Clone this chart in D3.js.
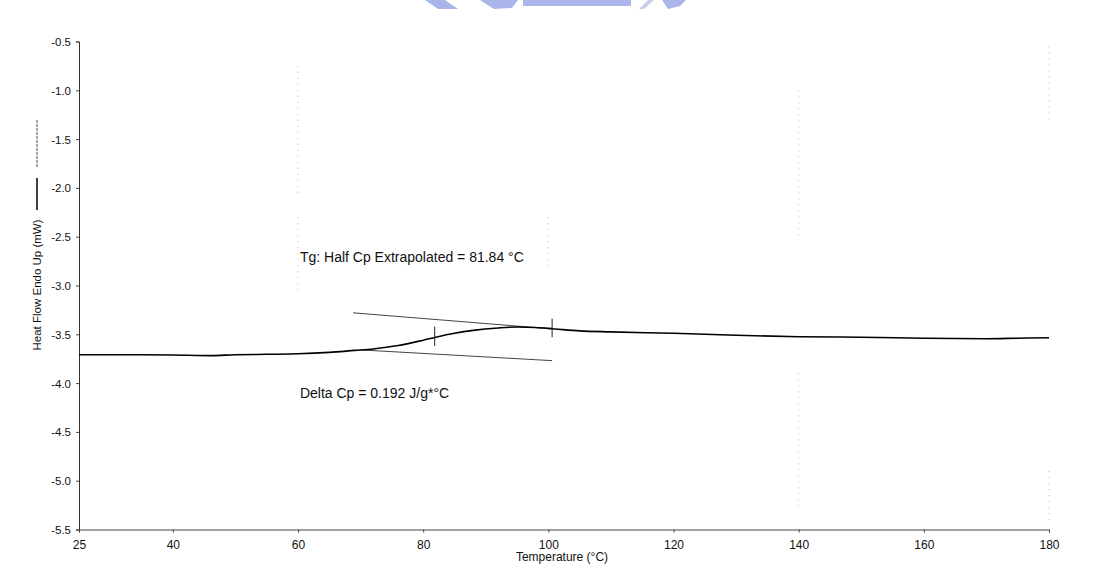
<!DOCTYPE html>
<html><head><meta charset="utf-8">
<script src="https://cdn.jsdelivr.net/npm/d3@7"></script>
<style>html,body{margin:0;padding:0;background:#fff}svg{display:block}</style>
</head><body><svg id="c" width="1104" height="568"></svg>
<script>
// ---- data ----
const temps = [25,30,35,40,46,50,55,60,65,69,72,76,80,82,85,88,92,95,98,101,105,110,120,130,140,150,160,170,175,180];
const heatFlow = [-3.71,-3.71,-3.71,-3.712,-3.718,-3.71,-3.705,-3.70,-3.685,-3.665,-3.65,-3.615,-3.56,-3.53,-3.49,-3.46,-3.435,-3.425,-3.43,-3.445,-3.465,-3.475,-3.49,-3.51,-3.525,-3.53,-3.54,-3.545,-3.54,-3.535];
const upperTangentT = [68.8, 100.6];
const upperTangentV = [-3.28, -3.445];
const lowerTangentT = [70, 100.6];
const lowerTangentV = [-3.66, -3.77];
const markerT = [81.84, 100.6];
const markerLo = [-3.62, -3.53];
const markerHi = [-3.42, -3.34];
const xTicks = [25,40,60,80,100,120,140,160,180];
const yTicks = [-0.5,-1.0,-1.5,-2.0,-2.5,-3.0,-3.5,-4.0,-4.5,-5.0,-5.5];
const yTickLabels = ["-0.5","-1.0","-1.5","-2.0","-2.5","-3.0","-3.5","-4.0","-4.5","-5.0","-5.5"];
const annotations = ["Tg: Half Cp Extrapolated = 81.84 °C", "Delta Cp = 0.192 J/g*°C"];
const annotT = [60.3, 60.3];
const annotV = [-2.755, -4.15];
// faint scanned grid remnants (temperature, from value, to value)
const gridT = [60, 60, 100, 140, 140, 180, 180];
const gridFrom = [-0.75, -2.3, -2.3, -1.0, -3.9, -0.55, -4.9];
const gridTo = [-2.1, -3.1, -2.8, -2.5, -5.3, -1.3, -5.4];

const svg = d3.select("#c");
const x = d3.scaleLinear().domain([25,180]).range([79,1049]);
const y = d3.scaleLinear().domain([-5.5,-0.5]).range([529.5,41.5]);
const font = "'Liberation Sans', Arial, sans-serif";

// watermark remnant at top
const wm = svg.append("g").attr("fill","#aab5e9");
wm.append("rect").attr("x",523).attr("y",0).attr("width",108).attr("height",6);
wm.append("path").attr("d","M425,0 L445,0 L458,9 L438,9 Z");
wm.append("path").attr("d","M480,0 L518,0 L512,8 L494,9 Z");
wm.append("path").attr("d","M648,0 L654,0 L644,9 L639,9 Z").attr("fill","#c9d0ef");
wm.append("path").attr("d","M662,0 L686,0 L680,6 L668,9 Z");

// faint grid remnants
svg.append("g").selectAll("line").data(gridT).join("line")
  .attr("x1",d=>x(d)).attr("x2",d=>x(d))
  .attr("y1",(d,i)=>y(gridFrom[i])).attr("y2",(d,i)=>y(gridTo[i]))
  .attr("stroke","#bdbdbd").attr("stroke-width",1).attr("stroke-dasharray","1,5");

// axes
const yAxis = d3.axisLeft(y).tickValues(yTicks).tickSize(3).tickPadding(5).tickFormat((d,i)=>yTickLabels[i]);
const gy = svg.append("g").attr("transform","translate(79,0)").call(yAxis);
gy.select(".domain").attr("stroke","#333");
gy.selectAll("line").attr("stroke","#444");
gy.selectAll("text").attr("font-family",font).attr("font-size",11.5).attr("fill","#111").attr("dy","0.35em");

const xAxis = d3.axisBottom(x).tickValues(xTicks).tickSize(3).tickPadding(8).tickFormat(d3.format("d"));
const gx = svg.append("g").attr("transform","translate(0,529.5)").call(xAxis);
gx.select(".domain").attr("stroke","#444");
gx.selectAll("line").attr("stroke","#444");
gx.selectAll("text").attr("font-family",font).attr("font-size",12).attr("fill","#111");

svg.append("text").attr("x",562).attr("y",561).attr("text-anchor","middle")
  .attr("font-family",font).attr("font-size",12).attr("fill","#111").text("Temperature (°C)");

// y label + legend line
svg.append("text").attr("transform","translate(41,285) rotate(-90)").attr("text-anchor","middle")
  .attr("font-family",font).attr("font-size",11.5).attr("fill","#111").text("Heat Flow Endo Up (mW)");
svg.append("line").attr("x1",37).attr("x2",37).attr("y1",178).attr("y2",210).attr("stroke","#000").attr("stroke-width",1.5);
svg.append("line").attr("x1",37).attr("x2",37).attr("y1",120).attr("y2",168).attr("stroke","#555").attr("stroke-width",1).attr("stroke-dasharray","3,1");

// tangent lines
const tline = d3.line().x(d=>x(d[0])).y(d=>y(d[1]));
svg.append("path").attr("d",tline(upperTangentT.map((t,i)=>[t,upperTangentV[i]])))
  .attr("fill","none").attr("stroke","#444").attr("stroke-width",1);
svg.append("path").attr("d",tline(lowerTangentT.map((t,i)=>[t,lowerTangentV[i]])))
  .attr("fill","none").attr("stroke","#444").attr("stroke-width",1);

// curve
const curve = d3.line().x((d,i)=>x(temps[i])).y(d=>y(d)).curve(d3.curveMonotoneX);
svg.append("path").attr("d",curve(heatFlow)).attr("fill","none").attr("stroke","#000").attr("stroke-width",1.6);

// markers
svg.append("g").selectAll("line").data(markerT).join("line")
  .attr("x1",d=>x(d)).attr("x2",d=>x(d))
  .attr("y1",(d,i)=>y(markerLo[i])).attr("y2",(d,i)=>y(markerHi[i]))
  .attr("stroke","#222").attr("stroke-width",1);

// annotations
svg.append("g").selectAll("text").data(annotations).join("text")
  .attr("x",(d,i)=>x(annotT[i])).attr("y",(d,i)=>y(annotV[i]))
  .attr("font-family",font).attr("font-size",14).attr("fill","#111").text(d=>d);
</script></body></html>
